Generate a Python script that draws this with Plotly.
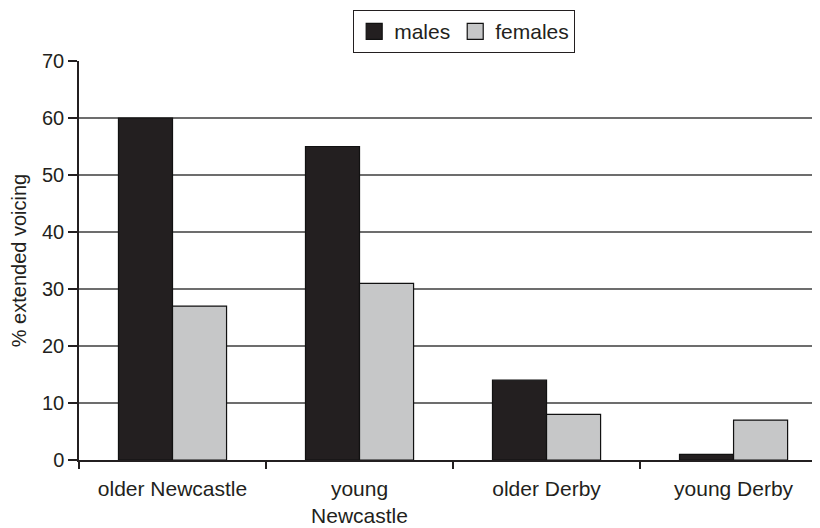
import plotly.graph_objects as go

categories = ["older Newcastle", "young<br>Newcastle", "older Derby", "young Derby"]
males = [60, 55, 14, 1]
females = [27, 31, 8, 7]
y_ticks = [0, 10, 20, 30, 40, 50, 60, 70]
series_names = ["males", "females"]
series_colors = ["#231f20", "#c6c7c8"]

xpos = list(range(len(categories)))
boundaries = [i - 0.5 for i in range(len(categories) + 1)]

font = "Liberation Sans, Arial, sans-serif"

fig = go.Figure()
for vals, name, col in zip([males, females], series_names, series_colors):
    fig.add_trace(go.Bar(x=xpos, y=vals, name=name, showlegend=False,
                         marker=dict(color=col, line=dict(color="#111", width=1.2))))
# legend entries with large square swatches
for name, col in zip(series_names, series_colors):
    fig.add_trace(go.Scatter(x=[None], y=[None], name=name, mode="markers",
                             marker=dict(symbol="square", size=16, color=col,
                                         line=dict(color="#111", width=1.2))))
# invisible trace to carry category boundary ticks
fig.add_trace(go.Scatter(x=boundaries, y=[0]*len(boundaries), xaxis="x2",
                         mode="markers", marker=dict(opacity=0), showlegend=False,
                         hoverinfo="skip"))

xr = [-0.5, 3.505]
fig.update_layout(
    width=820, height=528,
    margin=dict(l=71, r=0, t=53, b=76),
    paper_bgcolor="white", plot_bgcolor="white",
    barmode="group", bargap=0.422, bargroupgap=0,
    font=dict(family=font, size=20, color="#231f20"),
    legend=dict(orientation="h", x=0.514, xanchor="center", y=1.128, yanchor="top",
                bordercolor="#231f20", borderwidth=1.2, font=dict(size=21),
                itemwidth=30, traceorder="normal", tracegroupgap=0),
    xaxis=dict(range=xr, tickmode="array", tickvals=xpos, ticktext=categories,
               ticks="", showgrid=False, showline=True, linecolor="#231f20", linewidth=1.5,
               tickfont=dict(size=21), zeroline=False, ticklabelstandoff=9),
    xaxis2=dict(range=xr, overlaying="x", tickmode="array", tickvals=boundaries,
                ticks="outside", ticklen=8, tickcolor="#231f20", tickwidth=1.5,
                showticklabels=False, showgrid=False, showline=False, zeroline=False,
                side="bottom"),
    yaxis=dict(range=[0, 70], tickmode="array", tickvals=y_ticks,
               ticks="outside", ticklen=9, tickcolor="#231f20", tickwidth=1.5,
               showline=True, linecolor="#231f20", linewidth=1.5,
               showgrid=True, gridcolor="#6d6d6d", gridwidth=1.5, zeroline=False,
               tickfont=dict(size=20),
               title=dict(text="% extended voicing", font=dict(size=20), standoff=12)),
)
fig.write_html("out.html")
